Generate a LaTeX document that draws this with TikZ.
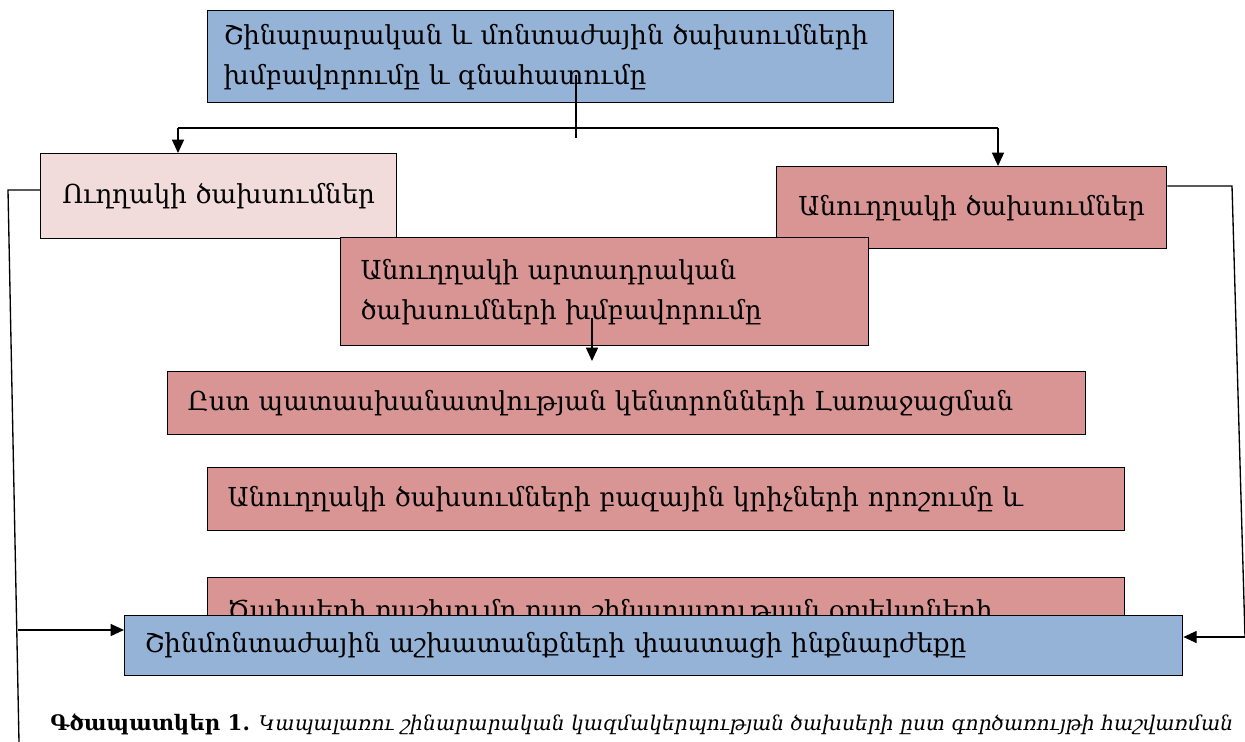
\documentclass[tikz,border=0pt]{standalone}
\usepackage{fontspec}
\setmainfont{DejaVu Serif}
\usepackage{tikz}
\usetikzlibrary{arrows.meta}
\definecolor{planblue}{HTML}{95B3D7}
\definecolor{directpink}{HTML}{F2DCDB}
\definecolor{indirectred}{HTML}{D99594}
\def\px{0.75pt}
\tikzset{
box/.style 2 args={draw=black, line width=1pt, inner xsep=20*\px, inner ysep=2pt, text width=(#1-40)*\px, minimum height=#2*\px, align=left, anchor=north west, font=\fontsize{19.6}{30}\selectfont},
bluebox/.style 2 args={box={#1}{#2}, fill=planblue}, pinkbox/.style 2 args={box={#1}{#2}, fill=directpink}, redbox/.style 2 args={box={#1}{#2}, fill=indirectred},
flow/.style={line width=1pt, -{Triangle[length=10pt, width=9pt]}}, wire/.style={line width=1pt}}

\begin{document}
\begin{tikzpicture}[x=\px, y=-\px]
\useasboundingbox (0,0) rectangle (1245,742);
\clip (0,0) rectangle (1245,742);
% boxes
\node [bluebox={686}{92}, inner xsep=16*\px, text width=654*\px] at (207,10) (plan) {Շինարարական և մոնտաժային ծախսումների\\ խմբավորումը և գնահատումը};
\node [pinkbox={356}{85}, align=center, inner xsep=10*\px, text width=336*\px] at (40,153) (direct) {Ուղղակի ծախսումներ};
\node [redbox={390}{82}, align=center, inner xsep=10*\px, text width=370*\px] at (776,166) (indirect) {Անուղղակի ծախսումներ};
\node [redbox={528}{108}] at (340,237) (group) {Անուղղակի արտադրական\\ ծախսումների խմբավորումը};
\node [redbox={918}{63}] at (167,371) (centers) {Ըստ պատասխանատվության կենտրոնների Լառաջացման};
\node [redbox={917}{63}] at (207,467) (bases) {Անուղղակի ծախսումների բազային կրիչների որոշումը և};
\node [redbox={917}{68}] at (207,577) (objects) {Ծախսերի բաշխումը ըստ շինարարության օբյեկտների};
\node [bluebox={1058}{60}] at (124,615) (cost) {Շինմոնտաժային աշխատանքների փաստացի ինքնարժեքը};
% split under the top box
\coordinate (stem-top) at (576,75);
\coordinate (stem-bot) at (576,138);
\coordinate (split-l) at (178,128);
\coordinate (split-r) at (998,128);
\draw [wire] (stem-top) -- (stem-bot);
\draw [wire] (split-l) -- (split-r);
\draw [flow] (split-l) -- (split-l |- direct.north);
\draw [flow] (split-r) -- (split-r |- indirect.north);
\coordinate (group-out) at (592,318);
\coordinate (group-tip) at (592,361);
\draw [flow] (group-out) -- (group-tip);
% side loops
\coordinate (loop-l-top) at (8,190);
\coordinate (loop-l-bot) at (19,742);
\coordinate (in-l) at (18,630);
\draw [wire] (direct.west |- loop-l-top) -- (loop-l-top) -- (loop-l-bot);
\draw [flow] (in-l) -- (in-l -| cost.west);
\coordinate (loop-r-top) at (1232,186);
\coordinate (loop-r-bot) at (1245,637);
\draw [wire] (indirect.east |- loop-r-top) -- (loop-r-top) -- (loop-r-bot);
\draw [flow] (loop-r-bot) -- (loop-r-bot -| cost.east);
% caption
\node [anchor=base west, inner sep=0, font=\fontsize{16}{18}\selectfont] at (50,730) (caption) {\textbf{Գծապատկեր 1.} {\fontsize{15.2}{18}\selectfont\itshape Կապալառու շինարարական կազմակերպության ծախսերի ըստ գործառույթի հաշվառման}};
\end{tikzpicture}
\end{document}
